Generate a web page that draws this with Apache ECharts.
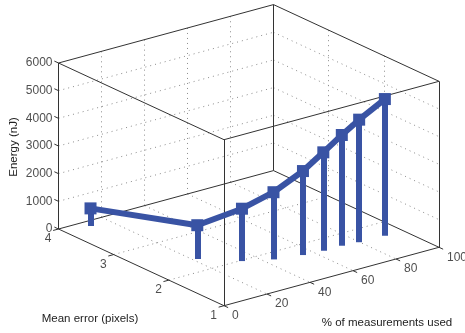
<!DOCTYPE html>
<html>
<head>
<meta charset="utf-8">
<script src="https://cdn.jsdelivr.net/npm/echarts@6/dist/echarts.min.js"></script>
<style>
html,body{margin:0;padding:0;background:#fff;}
#c{width:465px;height:333px;}
</style>
</head>
<body>
<div id="c"></div>
<script>
// ---- data ----
const meanError   = [3.86, 2.33, 1.98, 1.81, 1.72, 1.69, 1.69, 1.66, 1.65];
const percentUsed = [11.3, 21.7, 33.5, 43.8, 55.2, 63.9, 72.5, 79.8, 91.5];
const energy      = [636, 1222, 1893, 2429, 3036, 3557, 4002, 4430, 4937];

const eTicks = [1, 2, 3, 4];
const pTicks = [0, 20, 40, 60, 80, 100];
const zTicks = [0, 1000, 2000, 3000, 4000, 5000, 6000];

const eRange = [1, 4], pRange = [0, 100], zRange = [0, 6000];

// ---- 3D box layout (orthographic projection) ----
const ORIGIN = [58.5, 229];        // e = 4, p = 0, z = 0
const EVEC = [165.5, 76.7];        // e from 4 to 1
const PVEC = [215, -58.4];         // p from 0 to 100
const ZLEN = 166;                  // z from 0 to 6000

function proj(e, p, z) {
  const fe = (eRange[1] - e) / (eRange[1] - eRange[0]);
  const fp = (p - pRange[0]) / (pRange[1] - pRange[0]);
  const fz = (z - zRange[0]) / (zRange[1] - zRange[0]);
  return [ORIGIN[0] + fe * EVEC[0] + fp * PVEC[0],
          ORIGIN[1] + fe * EVEC[1] + fp * PVEC[1] - fz * ZLEN];
}
function seg(a, b) { return { coords: [proj(a[0], a[1], a[2]), proj(b[0], b[1], b[2])] }; }

const E0 = eRange[1], E1 = eRange[0], P0 = pRange[0], P1 = pRange[1], Z0 = zRange[0], Z1 = zRange[1];

// grid lines on the three back planes
const gridSegs = [];
zTicks.filter(z => z > Z0 && z < Z1).forEach(z => {
  gridSegs.push(seg([E0, P0, z], [E0, P1, z]));   // back wall e = 4
  gridSegs.push(seg([E0, P1, z], [E1, P1, z]));   // back wall p = 100
});
pTicks.filter(p => p > P0 && p < P1).forEach(p => {
  gridSegs.push(seg([E0, p, Z0], [E0, p, Z1]));
  gridSegs.push(seg([E0, p, Z0], [E1, p, Z0]));   // floor
});
eTicks.filter(e => e > E1 && e < E0).forEach(e => {
  gridSegs.push(seg([e, P1, Z0], [e, P1, Z1]));
  gridSegs.push(seg([e, P0, Z0], [e, P1, Z0]));   // floor
});

// box edges
const boxSegs = [];
[Z0, Z1].forEach(z => {
  boxSegs.push(seg([E0, P0, z], [E1, P0, z]));
  boxSegs.push(seg([E1, P0, z], [E1, P1, z]));
  boxSegs.push(seg([E1, P1, z], [E0, P1, z]));
  boxSegs.push(seg([E0, P1, z], [E0, P0, z]));
});
[[E0, P0], [E1, P0], [E1, P1], [E0, P1]].forEach(c => boxSegs.push(seg([c[0], c[1], Z0], [c[0], c[1], Z1])));

// tick marks
const tickSegs = [];
const tE = 0.025 * (E0 - E1), tP = 0.025 * (P1 - P0);
eTicks.forEach(e => tickSegs.push(seg([e, P0, Z0], [e, P0 - tP, Z0])));
pTicks.forEach(p => tickSegs.push(seg([E1, p, Z0], [E1 - tE, p, Z0])));
zTicks.forEach(z => tickSegs.push(seg([E0, P0, z], [E0 + tE, P0, z])));

// stems and line
const stemSegs = meanError.map((e, i) => seg([e, percentUsed[i], Z0], [e, percentUsed[i], energy[i]]));
const linePts = meanError.map((e, i) => proj(e, percentUsed[i], energy[i]));

const BLUE = '#3953a4';
const FONT = 'Liberation Sans, Arial, Helvetica, sans-serif';

function labelSeries(points, texts, label) {
  return {
    type: 'scatter', silent: true, symbolSize: 0, z: 6,
    data: points.map((pt, i) => ({ value: pt, name: String(texts[i]) })),
    label: Object.assign({ show: true, formatter: '{b}', color: '#222', fontSize: 12, fontFamily: FONT }, label)
  };
}

const chart = echarts.init(document.getElementById('c'), null, { renderer: 'canvas' });
chart.setOption({
  animation: false,
  backgroundColor: '#fff',
  grid: { left: 0, right: 0, top: 0, bottom: 0 },
  xAxis: { type: 'value', min: 0, max: 465, show: false },
  yAxis: { type: 'value', min: 0, max: 333, inverse: true, show: false },
  graphic: [
    { type: 'text', x: 14, y: 147, rotation: Math.PI / 2,
      style: { text: 'Energy (nJ)', fill: '#222', font: '11.5px ' + FONT, align: 'center', verticalAlign: 'middle' } },
    { type: 'text', x: 90, y: 319,
      style: { text: 'Mean error (pixels)', fill: '#222', font: '11.5px ' + FONT, align: 'center', verticalAlign: 'middle' } },
    { type: 'text', x: 387, y: 323,
      style: { text: '% of measurements used', fill: '#222', font: '11.5px ' + FONT, align: 'center', verticalAlign: 'middle' } }
  ],
  series: [
    { type: 'lines', coordinateSystem: 'cartesian2d', silent: true, z: 1, data: gridSegs,
      lineStyle: { color: '#8c8c8c', width: 1, type: [1, 4], opacity: 1 } },
    { type: 'lines', coordinateSystem: 'cartesian2d', silent: true, z: 2, data: boxSegs,
      lineStyle: { color: '#333', width: 1, opacity: 1 } },
    { type: 'lines', coordinateSystem: 'cartesian2d', silent: true, z: 2, data: tickSegs,
      lineStyle: { color: '#333', width: 1, opacity: 1 } },
    { type: 'lines', coordinateSystem: 'cartesian2d', silent: true, z: 3, data: stemSegs,
      lineStyle: { color: BLUE, width: 6, opacity: 1 } },
    { type: 'line', silent: true, z: 4, data: linePts, symbol: 'rect', symbolSize: 12,
      lineStyle: { color: BLUE, width: 6 }, itemStyle: { color: BLUE } },
    labelSeries(zTicks.map(z => proj(E0, P0, z)), zTicks,
      { position: 'inside', align: 'right', verticalAlign: 'middle', offset: [-6, 0] }),
    labelSeries(eTicks.map(e => proj(e, P0, Z0)), eTicks,
      { position: 'inside', align: 'right', verticalAlign: 'middle', offset: [-7, 10] }),
    labelSeries(pTicks.map(p => proj(E1, p, Z0)), pTicks,
      { position: 'inside', align: 'left', verticalAlign: 'middle', offset: [8, 10] })
  ]
});
</script>
</body>
</html>
